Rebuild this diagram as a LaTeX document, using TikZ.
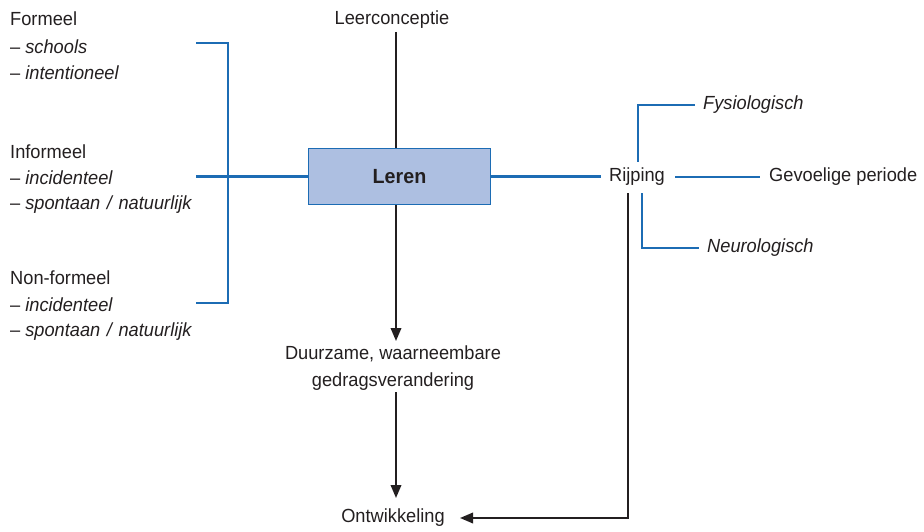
\documentclass[tikz,border=0pt]{standalone}
\usepackage{fontspec}
\setmainfont{Liberation Sans}[FakeStretch=0.96]
\usetikzlibrary{arrows.meta}
\definecolor{lineblue}{HTML}{1C6CB4}
\definecolor{boxfill}{HTML}{ADBFE1}
\definecolor{txt}{HTML}{231F20}
\newcommand{\dsh}{–\hspace{5pt}}
\tikzset{
  lbl/.style={inner sep=0pt, text=txt, font=\fontsize{19}{22}\selectfont},
  ilbl/.style={lbl, font=\fontsize{19}{22}\selectfont\itshape},
  blu/.style={draw=lineblue, line width=2.2pt},
  blk/.style={draw=txt, line width=2pt},
  arr/.style={blk, -{Triangle[length=13pt,width=10.5pt]}},
}
\begin{document}
\begin{tikzpicture}[x=1pt,y=-1pt]
\useasboundingbox (0,0) rectangle (924,532);
% central
\node[lbl] (leer) at (392,20) {Leerconceptie};
\node[draw=lineblue, line width=1.8pt, fill=boxfill, minimum width=182pt, minimum height=56pt, inner sep=0pt,
      font=\fontsize{20.5}{22}\selectfont\bfseries, text=txt] (leren) at (399.5,176.5) {Leren};
\node[lbl, align=center, font=\fontsize{19}{27}\selectfont] (duur) at (393,368) {Duurzame, waarneembare\\gedragsverandering};
\node[lbl] (ontw) at (393,518) {Ontwikkeling};
% right
\node[lbl] (rijp) at (637,177) {Rijping};
\node[lbl, anchor=west] (gev) at (769,177) {Gevoelige periode};
\node[ilbl, anchor=west] (fys) at (703,105) {Fysiologisch};
\node[ilbl, anchor=west] (neuro) at (707,248) {Neurologisch};
% left
\node[lbl, anchor=west] (f0) at (10,19) {Formeel};
\node[lbl, anchor=west] (f1) at (10,47) {\dsh\textit{schools}};
\node[lbl, anchor=west] (f2) at (10,73) {\dsh\textit{intentioneel}};
\node[lbl, anchor=west] (i0) at (10,152) {Informeel};
\node[lbl, anchor=west] (i1) at (10,178) {\dsh\textit{incidenteel}};
\node[lbl, anchor=west] (i2) at (10,205) {\dsh\textit{spontaan\hspace{1.5pt} / \hspace{1.5pt}natuurlijk}};
\node[lbl, anchor=west] (n0) at (10,278) {Non-formeel};
\node[lbl, anchor=west] (n1) at (10,305) {\dsh\textit{incidenteel}};
\node[lbl, anchor=west] (n2) at (10,332) {\dsh\textit{spontaan\hspace{1.5pt} / \hspace{1.5pt}natuurlijk}};
% connector end points
\coordinate (leerS) at (396,32);
\coordinate (duurN) at (396,341);
\coordinate (duurS) at (396,392);
\coordinate (ontwN) at (396,498);
\coordinate (ontwE) at (460,518);
\coordinate (rijpS) at (628,193);
\coordinate (rijpW) at (601,177);
\coordinate (rijpE) at (675,177);
\coordinate (gevW) at (760,177);
\coordinate (rijpN2) at (638,162);
\coordinate (fysW) at (695,105);
\coordinate (rijpS2) at (642,193);
\coordinate (neuroW) at (699,248);
\coordinate (bt) at (196,43);
\coordinate (bb) at (196,303);
\coordinate (bx) at (228,0);
% black connectors
\draw[blk] (leerS) -- (leren.north -| leerS);
\draw[arr] (leren.south -| duurN) -- (duurN);
\draw[arr] (duurS) -- (ontwN);
\draw[arr] (rijpS) |- (ontwE);
% blue connectors
\draw[blu] (bt) -- (bt -| bx) -- (bb -| bx) -- (bb);
\draw[blu] (bt |- leren.west) -- (leren.west);
\draw[blu] (leren.east) -- (leren.east -| rijpW);
\draw[blu] (rijpE) -- (gevW);
\draw[blu] (rijpN2) |- (fysW);
\draw[blu] (rijpS2) |- (neuroW);
\end{tikzpicture}
\end{document}
